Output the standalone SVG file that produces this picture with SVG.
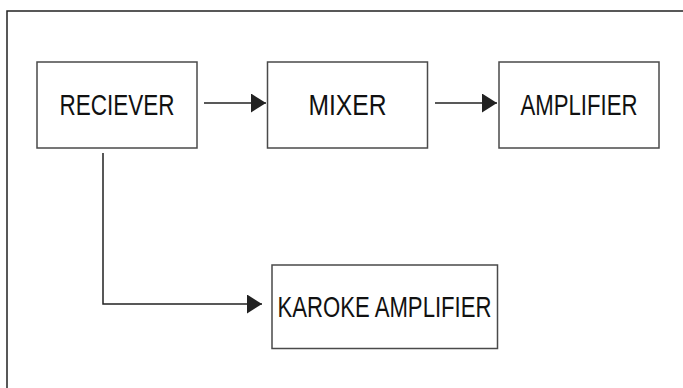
<svg xmlns="http://www.w3.org/2000/svg" width="683" height="388" viewBox="0 0 683 388">
<defs>
<style>
.box{fill:#fff;stroke:#4a4a4a;stroke-width:1.5}
.lbl{font-family:"Liberation Sans Narrow","Liberation Sans",Arial,sans-serif;font-size:30px;fill:#111;text-anchor:middle}
.ln{fill:none;stroke:#222;stroke-width:1.5}
</style>
<marker id="ah" markerWidth="15" markerHeight="19" refX="15" refY="9.5" orient="auto" markerUnits="userSpaceOnUse">
<path d="M0,0 L15,9.5 L0,19 Z" fill="#222"/>
</marker>
</defs>
<rect width="683" height="388" fill="#fff"/>
<rect x="7" y="11" width="700" height="400" fill="none" stroke="#222" stroke-width="1.5"/>
<g id="connectors">
<line class="ln" x1="204" y1="103" x2="266" y2="103" marker-end="url(#ah)"/>
<line class="ln" x1="435" y1="103" x2="497" y2="103" marker-end="url(#ah)"/>
<polyline class="ln" points="103,153 103,304 262,304" marker-end="url(#ah)"/>
</g>
<g id="reciever">
<rect class="box" x="37" y="62" width="160" height="86"/>
<text class="lbl" x="117" y="115" textLength="115" lengthAdjust="spacingAndGlyphs">RECIEVER</text>
</g>
<g id="mixer">
<rect class="box" x="267.5" y="62" width="160" height="86"/>
<text class="lbl" x="347.5" y="115" textLength="78" lengthAdjust="spacingAndGlyphs">MIXER</text>
</g>
<g id="amplifier">
<rect class="box" x="499" y="62" width="160" height="86"/>
<text class="lbl" x="579" y="115" textLength="117" lengthAdjust="spacingAndGlyphs">AMPLIFIER</text>
</g>
<g id="karoke-amplifier">
<rect class="box" x="272" y="265" width="225.5" height="83.5"/>
<text class="lbl" x="384.5" y="317" textLength="214" lengthAdjust="spacingAndGlyphs">KAROKE AMPLIFIER</text>
</g>
</svg>
